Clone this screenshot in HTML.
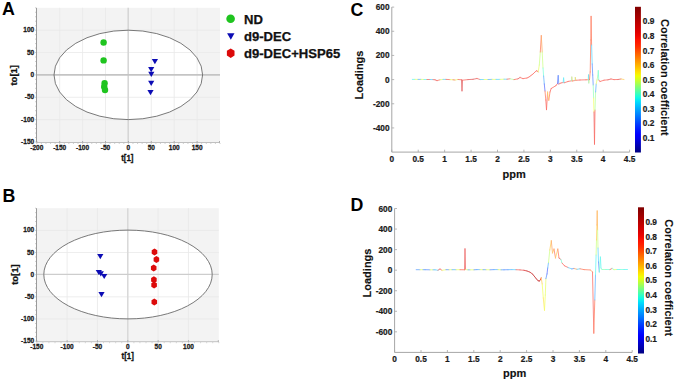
<!DOCTYPE html>
<html><head><meta charset="utf-8"><style>
html,body{margin:0;padding:0;background:#fff;}
svg{display:block;}
</style></head><body>
<svg width="675" height="383" viewBox="0 0 675 383">
<rect width="675" height="383" fill="#fff"/>
<rect x="36.8" y="7.8" width="183.2" height="134.2" fill="#f3f3f3"/>
<ellipse cx="128.3" cy="74.9" rx="74.3" ry="44.7" fill="#ffffff"/>
<line x1="59.70" y1="7.8" x2="59.70" y2="142.0" stroke="#e8e8e8" stroke-width="0.8"/>
<line x1="82.60" y1="7.8" x2="82.60" y2="142.0" stroke="#e8e8e8" stroke-width="0.8"/>
<line x1="105.50" y1="7.8" x2="105.50" y2="142.0" stroke="#e8e8e8" stroke-width="0.8"/>
<line x1="151.30" y1="7.8" x2="151.30" y2="142.0" stroke="#e8e8e8" stroke-width="0.8"/>
<line x1="174.20" y1="7.8" x2="174.20" y2="142.0" stroke="#e8e8e8" stroke-width="0.8"/>
<line x1="197.10" y1="7.8" x2="197.10" y2="142.0" stroke="#e8e8e8" stroke-width="0.8"/>
<line x1="36.8" y1="30.17" x2="220.0" y2="30.17" stroke="#e8e8e8" stroke-width="0.8"/>
<line x1="36.8" y1="52.53" x2="220.0" y2="52.53" stroke="#e8e8e8" stroke-width="0.8"/>
<line x1="36.8" y1="97.27" x2="220.0" y2="97.27" stroke="#e8e8e8" stroke-width="0.8"/>
<line x1="36.8" y1="119.63" x2="220.0" y2="119.63" stroke="#e8e8e8" stroke-width="0.8"/>
<line x1="128.2" y1="7.8" x2="128.2" y2="142.0" stroke="#d4d4d4" stroke-width="1.5"/>
<line x1="36.8" y1="74.95" x2="220.0" y2="74.95" stroke="#c4c4c4" stroke-width="1.7"/>
<ellipse cx="128.3" cy="74.9" rx="74.3" ry="44.7" fill="none" stroke="#6a6a6a" stroke-width="0.9"/>
<line x1="36.5" y1="7.8" x2="36.5" y2="142.5" stroke="#9a9a9a" stroke-width="1"/>
<line x1="36.5" y1="142.5" x2="220.0" y2="142.5" stroke="#c0c0c0" stroke-width="1"/>
<line x1="36.80" y1="142.5" x2="36.80" y2="141.0" stroke="#9a9a9a" stroke-width="0.8"/>
<line x1="59.70" y1="142.5" x2="59.70" y2="141.0" stroke="#9a9a9a" stroke-width="0.8"/>
<line x1="82.60" y1="142.5" x2="82.60" y2="141.0" stroke="#9a9a9a" stroke-width="0.8"/>
<line x1="105.50" y1="142.5" x2="105.50" y2="141.0" stroke="#9a9a9a" stroke-width="0.8"/>
<line x1="128.40" y1="142.5" x2="128.40" y2="141.0" stroke="#9a9a9a" stroke-width="0.8"/>
<line x1="151.30" y1="142.5" x2="151.30" y2="141.0" stroke="#9a9a9a" stroke-width="0.8"/>
<line x1="174.20" y1="142.5" x2="174.20" y2="141.0" stroke="#9a9a9a" stroke-width="0.8"/>
<line x1="197.10" y1="142.5" x2="197.10" y2="141.0" stroke="#9a9a9a" stroke-width="0.8"/>
<line x1="219.5" y1="142.5" x2="219.5" y2="141.0" stroke="#9a9a9a" stroke-width="0.8"/>
<line x1="36.80" y1="143.0" x2="36.80" y2="144.0" stroke="#c4c4c4" stroke-width="0.8"/>
<line x1="41.38" y1="143.0" x2="41.38" y2="144.0" stroke="#c4c4c4" stroke-width="0.8"/>
<line x1="45.96" y1="143.0" x2="45.96" y2="144.0" stroke="#c4c4c4" stroke-width="0.8"/>
<line x1="50.54" y1="143.0" x2="50.54" y2="144.0" stroke="#c4c4c4" stroke-width="0.8"/>
<line x1="55.12" y1="143.0" x2="55.12" y2="144.0" stroke="#c4c4c4" stroke-width="0.8"/>
<line x1="59.70" y1="143.0" x2="59.70" y2="144.0" stroke="#c4c4c4" stroke-width="0.8"/>
<line x1="64.28" y1="143.0" x2="64.28" y2="144.0" stroke="#c4c4c4" stroke-width="0.8"/>
<line x1="68.86" y1="143.0" x2="68.86" y2="144.0" stroke="#c4c4c4" stroke-width="0.8"/>
<line x1="73.44" y1="143.0" x2="73.44" y2="144.0" stroke="#c4c4c4" stroke-width="0.8"/>
<line x1="78.02" y1="143.0" x2="78.02" y2="144.0" stroke="#c4c4c4" stroke-width="0.8"/>
<line x1="82.60" y1="143.0" x2="82.60" y2="144.0" stroke="#c4c4c4" stroke-width="0.8"/>
<line x1="87.18" y1="143.0" x2="87.18" y2="144.0" stroke="#c4c4c4" stroke-width="0.8"/>
<line x1="91.76" y1="143.0" x2="91.76" y2="144.0" stroke="#c4c4c4" stroke-width="0.8"/>
<line x1="96.34" y1="143.0" x2="96.34" y2="144.0" stroke="#c4c4c4" stroke-width="0.8"/>
<line x1="100.92" y1="143.0" x2="100.92" y2="144.0" stroke="#c4c4c4" stroke-width="0.8"/>
<line x1="105.50" y1="143.0" x2="105.50" y2="144.0" stroke="#c4c4c4" stroke-width="0.8"/>
<line x1="110.08" y1="143.0" x2="110.08" y2="144.0" stroke="#c4c4c4" stroke-width="0.8"/>
<line x1="114.66" y1="143.0" x2="114.66" y2="144.0" stroke="#c4c4c4" stroke-width="0.8"/>
<line x1="119.24" y1="143.0" x2="119.24" y2="144.0" stroke="#c4c4c4" stroke-width="0.8"/>
<line x1="123.82" y1="143.0" x2="123.82" y2="144.0" stroke="#c4c4c4" stroke-width="0.8"/>
<line x1="128.40" y1="143.0" x2="128.40" y2="144.0" stroke="#c4c4c4" stroke-width="0.8"/>
<line x1="132.98" y1="143.0" x2="132.98" y2="144.0" stroke="#c4c4c4" stroke-width="0.8"/>
<line x1="137.56" y1="143.0" x2="137.56" y2="144.0" stroke="#c4c4c4" stroke-width="0.8"/>
<line x1="142.14" y1="143.0" x2="142.14" y2="144.0" stroke="#c4c4c4" stroke-width="0.8"/>
<line x1="146.72" y1="143.0" x2="146.72" y2="144.0" stroke="#c4c4c4" stroke-width="0.8"/>
<line x1="151.30" y1="143.0" x2="151.30" y2="144.0" stroke="#c4c4c4" stroke-width="0.8"/>
<line x1="155.88" y1="143.0" x2="155.88" y2="144.0" stroke="#c4c4c4" stroke-width="0.8"/>
<line x1="160.46" y1="143.0" x2="160.46" y2="144.0" stroke="#c4c4c4" stroke-width="0.8"/>
<line x1="165.04" y1="143.0" x2="165.04" y2="144.0" stroke="#c4c4c4" stroke-width="0.8"/>
<line x1="169.62" y1="143.0" x2="169.62" y2="144.0" stroke="#c4c4c4" stroke-width="0.8"/>
<line x1="174.20" y1="143.0" x2="174.20" y2="144.0" stroke="#c4c4c4" stroke-width="0.8"/>
<line x1="178.78" y1="143.0" x2="178.78" y2="144.0" stroke="#c4c4c4" stroke-width="0.8"/>
<line x1="183.36" y1="143.0" x2="183.36" y2="144.0" stroke="#c4c4c4" stroke-width="0.8"/>
<line x1="187.94" y1="143.0" x2="187.94" y2="144.0" stroke="#c4c4c4" stroke-width="0.8"/>
<line x1="192.52" y1="143.0" x2="192.52" y2="144.0" stroke="#c4c4c4" stroke-width="0.8"/>
<line x1="197.10" y1="143.0" x2="197.10" y2="144.0" stroke="#c4c4c4" stroke-width="0.8"/>
<line x1="201.68" y1="143.0" x2="201.68" y2="144.0" stroke="#c4c4c4" stroke-width="0.8"/>
<line x1="206.26" y1="143.0" x2="206.26" y2="144.0" stroke="#c4c4c4" stroke-width="0.8"/>
<line x1="210.84" y1="143.0" x2="210.84" y2="144.0" stroke="#c4c4c4" stroke-width="0.8"/>
<line x1="215.42" y1="143.0" x2="215.42" y2="144.0" stroke="#c4c4c4" stroke-width="0.8"/>
<line x1="220.00" y1="143.0" x2="220.00" y2="144.0" stroke="#c4c4c4" stroke-width="0.8"/>
<line x1="35" y1="142.00" x2="36" y2="142.00" stroke="#c4c4c4" stroke-width="0.8"/>
<line x1="35" y1="137.53" x2="36" y2="137.53" stroke="#c4c4c4" stroke-width="0.8"/>
<line x1="35" y1="133.05" x2="36" y2="133.05" stroke="#c4c4c4" stroke-width="0.8"/>
<line x1="35" y1="128.58" x2="36" y2="128.58" stroke="#c4c4c4" stroke-width="0.8"/>
<line x1="35" y1="124.11" x2="36" y2="124.11" stroke="#c4c4c4" stroke-width="0.8"/>
<line x1="35" y1="119.63" x2="36" y2="119.63" stroke="#c4c4c4" stroke-width="0.8"/>
<line x1="35" y1="115.16" x2="36" y2="115.16" stroke="#c4c4c4" stroke-width="0.8"/>
<line x1="35" y1="110.69" x2="36" y2="110.69" stroke="#c4c4c4" stroke-width="0.8"/>
<line x1="35" y1="106.21" x2="36" y2="106.21" stroke="#c4c4c4" stroke-width="0.8"/>
<line x1="35" y1="101.74" x2="36" y2="101.74" stroke="#c4c4c4" stroke-width="0.8"/>
<line x1="35" y1="97.27" x2="36" y2="97.27" stroke="#c4c4c4" stroke-width="0.8"/>
<line x1="35" y1="92.79" x2="36" y2="92.79" stroke="#c4c4c4" stroke-width="0.8"/>
<line x1="35" y1="88.32" x2="36" y2="88.32" stroke="#c4c4c4" stroke-width="0.8"/>
<line x1="35" y1="83.85" x2="36" y2="83.85" stroke="#c4c4c4" stroke-width="0.8"/>
<line x1="35" y1="79.37" x2="36" y2="79.37" stroke="#c4c4c4" stroke-width="0.8"/>
<line x1="35" y1="74.90" x2="36" y2="74.90" stroke="#c4c4c4" stroke-width="0.8"/>
<line x1="35" y1="70.43" x2="36" y2="70.43" stroke="#c4c4c4" stroke-width="0.8"/>
<line x1="35" y1="65.95" x2="36" y2="65.95" stroke="#c4c4c4" stroke-width="0.8"/>
<line x1="35" y1="61.48" x2="36" y2="61.48" stroke="#c4c4c4" stroke-width="0.8"/>
<line x1="35" y1="57.01" x2="36" y2="57.01" stroke="#c4c4c4" stroke-width="0.8"/>
<line x1="35" y1="52.53" x2="36" y2="52.53" stroke="#c4c4c4" stroke-width="0.8"/>
<line x1="35" y1="48.06" x2="36" y2="48.06" stroke="#c4c4c4" stroke-width="0.8"/>
<line x1="35" y1="43.59" x2="36" y2="43.59" stroke="#c4c4c4" stroke-width="0.8"/>
<line x1="35" y1="39.11" x2="36" y2="39.11" stroke="#c4c4c4" stroke-width="0.8"/>
<line x1="35" y1="34.64" x2="36" y2="34.64" stroke="#c4c4c4" stroke-width="0.8"/>
<line x1="35" y1="30.17" x2="36" y2="30.17" stroke="#c4c4c4" stroke-width="0.8"/>
<line x1="35" y1="25.69" x2="36" y2="25.69" stroke="#c4c4c4" stroke-width="0.8"/>
<line x1="35" y1="21.22" x2="36" y2="21.22" stroke="#c4c4c4" stroke-width="0.8"/>
<line x1="35" y1="16.75" x2="36" y2="16.75" stroke="#c4c4c4" stroke-width="0.8"/>
<line x1="35" y1="12.27" x2="36" y2="12.27" stroke="#c4c4c4" stroke-width="0.8"/>
<line x1="35" y1="7.80" x2="36" y2="7.80" stroke="#c4c4c4" stroke-width="0.8"/>
<text x="39.77" y="32.27" transform="scale(0.86,1)" text-anchor="end" font-size="7.6" font-family="Liberation Sans, sans-serif" font-weight="bold" fill="#1a1a1a" stroke="#1a1a1a" stroke-width="0.3">100</text>
<text x="39.77" y="54.63" transform="scale(0.86,1)" text-anchor="end" font-size="7.6" font-family="Liberation Sans, sans-serif" font-weight="bold" fill="#1a1a1a" stroke="#1a1a1a" stroke-width="0.3">50</text>
<text x="39.77" y="77.00" transform="scale(0.86,1)" text-anchor="end" font-size="7.6" font-family="Liberation Sans, sans-serif" font-weight="bold" fill="#1a1a1a" stroke="#1a1a1a" stroke-width="0.3">0</text>
<text x="39.77" y="99.37" transform="scale(0.86,1)" text-anchor="end" font-size="7.6" font-family="Liberation Sans, sans-serif" font-weight="bold" fill="#1a1a1a" stroke="#1a1a1a" stroke-width="0.3">-50</text>
<text x="39.77" y="121.73" transform="scale(0.86,1)" text-anchor="end" font-size="7.6" font-family="Liberation Sans, sans-serif" font-weight="bold" fill="#1a1a1a" stroke="#1a1a1a" stroke-width="0.3">-100</text>
<text x="39.77" y="144.10" transform="scale(0.86,1)" text-anchor="end" font-size="7.6" font-family="Liberation Sans, sans-serif" font-weight="bold" fill="#1a1a1a" stroke="#1a1a1a" stroke-width="0.3">-150</text>
<text x="42.79" y="150.40" transform="scale(0.86,1)" text-anchor="middle" font-size="7.6" font-family="Liberation Sans, sans-serif" font-weight="bold" fill="#1a1a1a" stroke="#1a1a1a" stroke-width="0.3">-200</text>
<text x="69.42" y="150.40" transform="scale(0.86,1)" text-anchor="middle" font-size="7.6" font-family="Liberation Sans, sans-serif" font-weight="bold" fill="#1a1a1a" stroke="#1a1a1a" stroke-width="0.3">-150</text>
<text x="96.05" y="150.40" transform="scale(0.86,1)" text-anchor="middle" font-size="7.6" font-family="Liberation Sans, sans-serif" font-weight="bold" fill="#1a1a1a" stroke="#1a1a1a" stroke-width="0.3">-100</text>
<text x="122.67" y="150.40" transform="scale(0.86,1)" text-anchor="middle" font-size="7.6" font-family="Liberation Sans, sans-serif" font-weight="bold" fill="#1a1a1a" stroke="#1a1a1a" stroke-width="0.3">-50</text>
<text x="149.30" y="150.40" transform="scale(0.86,1)" text-anchor="middle" font-size="7.6" font-family="Liberation Sans, sans-serif" font-weight="bold" fill="#1a1a1a" stroke="#1a1a1a" stroke-width="0.3">0</text>
<text x="175.93" y="150.40" transform="scale(0.86,1)" text-anchor="middle" font-size="7.6" font-family="Liberation Sans, sans-serif" font-weight="bold" fill="#1a1a1a" stroke="#1a1a1a" stroke-width="0.3">50</text>
<text x="202.56" y="150.40" transform="scale(0.86,1)" text-anchor="middle" font-size="7.6" font-family="Liberation Sans, sans-serif" font-weight="bold" fill="#1a1a1a" stroke="#1a1a1a" stroke-width="0.3">100</text>
<text x="229.19" y="150.40" transform="scale(0.86,1)" text-anchor="middle" font-size="7.6" font-family="Liberation Sans, sans-serif" font-weight="bold" fill="#1a1a1a" stroke="#1a1a1a" stroke-width="0.3">150</text>
<text x="1.9" y="14.7" font-size="17.8" font-family="Liberation Sans, sans-serif" font-weight="bold" fill="#000">A</text>
<text x="0" y="0" transform="translate(17.1,75.3) scale(0.87,1) rotate(-90)" text-anchor="middle" font-size="9.5" font-family="Liberation Sans, sans-serif" font-weight="bold" fill="#111" stroke="#111" stroke-width="0.3">to[1]</text>
<text x="0" y="0" transform="translate(127.3,160.6) scale(0.9,1)" text-anchor="middle" font-size="8.8" font-family="Liberation Sans, sans-serif" font-weight="bold" fill="#111" stroke="#111" stroke-width="0.3">t[1]</text>
<circle cx="103.6" cy="42.5" r="3.2" fill="#1fc41f"/>
<circle cx="103.6" cy="60.4" r="3.2" fill="#1fc41f"/>
<circle cx="104.6" cy="83.2" r="3.2" fill="#1fc41f"/>
<circle cx="104.2" cy="86.8" r="3.2" fill="#1fc41f"/>
<circle cx="105.0" cy="90.0" r="3.2" fill="#1fc41f"/>
<polygon points="151.80,59.10 158.00,59.10 154.90,64.30" fill="#0c0cb4"/>
<polygon points="148.10,67.00 154.30,67.00 151.20,72.20" fill="#0c0cb4"/>
<polygon points="148.20,71.70 154.40,71.70 151.30,76.90" fill="#0c0cb4"/>
<polygon points="148.10,80.80 154.30,80.80 151.20,86.00" fill="#0c0cb4"/>
<polygon points="147.40,90.00 153.60,90.00 150.50,95.20" fill="#0c0cb4"/>
<rect x="36.8" y="208.2" width="182.0" height="133.0" fill="#f3f3f3"/>
<ellipse cx="128.0" cy="274.5" rx="84.2" ry="44.4" fill="#ffffff"/>
<line x1="67.13" y1="208.2" x2="67.13" y2="341.2" stroke="#e8e8e8" stroke-width="0.8"/>
<line x1="97.47" y1="208.2" x2="97.47" y2="341.2" stroke="#e8e8e8" stroke-width="0.8"/>
<line x1="158.13" y1="208.2" x2="158.13" y2="341.2" stroke="#e8e8e8" stroke-width="0.8"/>
<line x1="188.47" y1="208.2" x2="188.47" y2="341.2" stroke="#e8e8e8" stroke-width="0.8"/>
<line x1="36.8" y1="230.37" x2="218.8" y2="230.37" stroke="#e8e8e8" stroke-width="0.8"/>
<line x1="36.8" y1="252.53" x2="218.8" y2="252.53" stroke="#e8e8e8" stroke-width="0.8"/>
<line x1="36.8" y1="296.87" x2="218.8" y2="296.87" stroke="#e8e8e8" stroke-width="0.8"/>
<line x1="36.8" y1="319.03" x2="218.8" y2="319.03" stroke="#e8e8e8" stroke-width="0.8"/>
<line x1="127.8" y1="208.2" x2="127.8" y2="341.2" stroke="#d8d8d8" stroke-width="1.5"/>
<line x1="36.8" y1="274.4" x2="218.8" y2="274.4" stroke="#cdcdcd" stroke-width="1.3"/>
<ellipse cx="128.0" cy="274.5" rx="84.2" ry="44.4" fill="none" stroke="#6a6a6a" stroke-width="0.9"/>
<line x1="36.5" y1="208.2" x2="36.5" y2="341.7" stroke="#9a9a9a" stroke-width="1"/>
<line x1="36.5" y1="341.7" x2="218.8" y2="341.7" stroke="#c0c0c0" stroke-width="1"/>
<line x1="36.80" y1="341.7" x2="36.80" y2="340.2" stroke="#9a9a9a" stroke-width="0.8"/>
<line x1="67.13" y1="341.7" x2="67.13" y2="340.2" stroke="#9a9a9a" stroke-width="0.8"/>
<line x1="97.47" y1="341.7" x2="97.47" y2="340.2" stroke="#9a9a9a" stroke-width="0.8"/>
<line x1="127.80" y1="341.7" x2="127.80" y2="340.2" stroke="#9a9a9a" stroke-width="0.8"/>
<line x1="158.13" y1="341.7" x2="158.13" y2="340.2" stroke="#9a9a9a" stroke-width="0.8"/>
<line x1="188.47" y1="341.7" x2="188.47" y2="340.2" stroke="#9a9a9a" stroke-width="0.8"/>
<line x1="218.3" y1="341.7" x2="218.3" y2="340.2" stroke="#9a9a9a" stroke-width="0.8"/>
<line x1="36.80" y1="342.2" x2="36.80" y2="343.2" stroke="#c4c4c4" stroke-width="0.8"/>
<line x1="42.87" y1="342.2" x2="42.87" y2="343.2" stroke="#c4c4c4" stroke-width="0.8"/>
<line x1="48.93" y1="342.2" x2="48.93" y2="343.2" stroke="#c4c4c4" stroke-width="0.8"/>
<line x1="55.00" y1="342.2" x2="55.00" y2="343.2" stroke="#c4c4c4" stroke-width="0.8"/>
<line x1="61.07" y1="342.2" x2="61.07" y2="343.2" stroke="#c4c4c4" stroke-width="0.8"/>
<line x1="67.13" y1="342.2" x2="67.13" y2="343.2" stroke="#c4c4c4" stroke-width="0.8"/>
<line x1="73.20" y1="342.2" x2="73.20" y2="343.2" stroke="#c4c4c4" stroke-width="0.8"/>
<line x1="79.27" y1="342.2" x2="79.27" y2="343.2" stroke="#c4c4c4" stroke-width="0.8"/>
<line x1="85.33" y1="342.2" x2="85.33" y2="343.2" stroke="#c4c4c4" stroke-width="0.8"/>
<line x1="91.40" y1="342.2" x2="91.40" y2="343.2" stroke="#c4c4c4" stroke-width="0.8"/>
<line x1="97.47" y1="342.2" x2="97.47" y2="343.2" stroke="#c4c4c4" stroke-width="0.8"/>
<line x1="103.53" y1="342.2" x2="103.53" y2="343.2" stroke="#c4c4c4" stroke-width="0.8"/>
<line x1="109.60" y1="342.2" x2="109.60" y2="343.2" stroke="#c4c4c4" stroke-width="0.8"/>
<line x1="115.67" y1="342.2" x2="115.67" y2="343.2" stroke="#c4c4c4" stroke-width="0.8"/>
<line x1="121.73" y1="342.2" x2="121.73" y2="343.2" stroke="#c4c4c4" stroke-width="0.8"/>
<line x1="127.80" y1="342.2" x2="127.80" y2="343.2" stroke="#c4c4c4" stroke-width="0.8"/>
<line x1="133.87" y1="342.2" x2="133.87" y2="343.2" stroke="#c4c4c4" stroke-width="0.8"/>
<line x1="139.93" y1="342.2" x2="139.93" y2="343.2" stroke="#c4c4c4" stroke-width="0.8"/>
<line x1="146.00" y1="342.2" x2="146.00" y2="343.2" stroke="#c4c4c4" stroke-width="0.8"/>
<line x1="152.07" y1="342.2" x2="152.07" y2="343.2" stroke="#c4c4c4" stroke-width="0.8"/>
<line x1="158.13" y1="342.2" x2="158.13" y2="343.2" stroke="#c4c4c4" stroke-width="0.8"/>
<line x1="164.20" y1="342.2" x2="164.20" y2="343.2" stroke="#c4c4c4" stroke-width="0.8"/>
<line x1="170.27" y1="342.2" x2="170.27" y2="343.2" stroke="#c4c4c4" stroke-width="0.8"/>
<line x1="176.33" y1="342.2" x2="176.33" y2="343.2" stroke="#c4c4c4" stroke-width="0.8"/>
<line x1="182.40" y1="342.2" x2="182.40" y2="343.2" stroke="#c4c4c4" stroke-width="0.8"/>
<line x1="188.47" y1="342.2" x2="188.47" y2="343.2" stroke="#c4c4c4" stroke-width="0.8"/>
<line x1="194.53" y1="342.2" x2="194.53" y2="343.2" stroke="#c4c4c4" stroke-width="0.8"/>
<line x1="200.60" y1="342.2" x2="200.60" y2="343.2" stroke="#c4c4c4" stroke-width="0.8"/>
<line x1="206.67" y1="342.2" x2="206.67" y2="343.2" stroke="#c4c4c4" stroke-width="0.8"/>
<line x1="212.73" y1="342.2" x2="212.73" y2="343.2" stroke="#c4c4c4" stroke-width="0.8"/>
<line x1="218.80" y1="342.2" x2="218.80" y2="343.2" stroke="#c4c4c4" stroke-width="0.8"/>
<line x1="35" y1="341.20" x2="36" y2="341.20" stroke="#c4c4c4" stroke-width="0.8"/>
<line x1="35" y1="336.77" x2="36" y2="336.77" stroke="#c4c4c4" stroke-width="0.8"/>
<line x1="35" y1="332.33" x2="36" y2="332.33" stroke="#c4c4c4" stroke-width="0.8"/>
<line x1="35" y1="327.90" x2="36" y2="327.90" stroke="#c4c4c4" stroke-width="0.8"/>
<line x1="35" y1="323.47" x2="36" y2="323.47" stroke="#c4c4c4" stroke-width="0.8"/>
<line x1="35" y1="319.03" x2="36" y2="319.03" stroke="#c4c4c4" stroke-width="0.8"/>
<line x1="35" y1="314.60" x2="36" y2="314.60" stroke="#c4c4c4" stroke-width="0.8"/>
<line x1="35" y1="310.17" x2="36" y2="310.17" stroke="#c4c4c4" stroke-width="0.8"/>
<line x1="35" y1="305.73" x2="36" y2="305.73" stroke="#c4c4c4" stroke-width="0.8"/>
<line x1="35" y1="301.30" x2="36" y2="301.30" stroke="#c4c4c4" stroke-width="0.8"/>
<line x1="35" y1="296.87" x2="36" y2="296.87" stroke="#c4c4c4" stroke-width="0.8"/>
<line x1="35" y1="292.43" x2="36" y2="292.43" stroke="#c4c4c4" stroke-width="0.8"/>
<line x1="35" y1="288.00" x2="36" y2="288.00" stroke="#c4c4c4" stroke-width="0.8"/>
<line x1="35" y1="283.57" x2="36" y2="283.57" stroke="#c4c4c4" stroke-width="0.8"/>
<line x1="35" y1="279.13" x2="36" y2="279.13" stroke="#c4c4c4" stroke-width="0.8"/>
<line x1="35" y1="274.70" x2="36" y2="274.70" stroke="#c4c4c4" stroke-width="0.8"/>
<line x1="35" y1="270.27" x2="36" y2="270.27" stroke="#c4c4c4" stroke-width="0.8"/>
<line x1="35" y1="265.83" x2="36" y2="265.83" stroke="#c4c4c4" stroke-width="0.8"/>
<line x1="35" y1="261.40" x2="36" y2="261.40" stroke="#c4c4c4" stroke-width="0.8"/>
<line x1="35" y1="256.97" x2="36" y2="256.97" stroke="#c4c4c4" stroke-width="0.8"/>
<line x1="35" y1="252.53" x2="36" y2="252.53" stroke="#c4c4c4" stroke-width="0.8"/>
<line x1="35" y1="248.10" x2="36" y2="248.10" stroke="#c4c4c4" stroke-width="0.8"/>
<line x1="35" y1="243.67" x2="36" y2="243.67" stroke="#c4c4c4" stroke-width="0.8"/>
<line x1="35" y1="239.23" x2="36" y2="239.23" stroke="#c4c4c4" stroke-width="0.8"/>
<line x1="35" y1="234.80" x2="36" y2="234.80" stroke="#c4c4c4" stroke-width="0.8"/>
<line x1="35" y1="230.37" x2="36" y2="230.37" stroke="#c4c4c4" stroke-width="0.8"/>
<line x1="35" y1="225.93" x2="36" y2="225.93" stroke="#c4c4c4" stroke-width="0.8"/>
<line x1="35" y1="221.50" x2="36" y2="221.50" stroke="#c4c4c4" stroke-width="0.8"/>
<line x1="35" y1="217.07" x2="36" y2="217.07" stroke="#c4c4c4" stroke-width="0.8"/>
<line x1="35" y1="212.63" x2="36" y2="212.63" stroke="#c4c4c4" stroke-width="0.8"/>
<line x1="35" y1="208.20" x2="36" y2="208.20" stroke="#c4c4c4" stroke-width="0.8"/>
<text x="39.77" y="232.47" transform="scale(0.86,1)" text-anchor="end" font-size="7.6" font-family="Liberation Sans, sans-serif" font-weight="bold" fill="#1a1a1a" stroke="#1a1a1a" stroke-width="0.3">100</text>
<text x="39.77" y="254.63" transform="scale(0.86,1)" text-anchor="end" font-size="7.6" font-family="Liberation Sans, sans-serif" font-weight="bold" fill="#1a1a1a" stroke="#1a1a1a" stroke-width="0.3">50</text>
<text x="39.77" y="276.80" transform="scale(0.86,1)" text-anchor="end" font-size="7.6" font-family="Liberation Sans, sans-serif" font-weight="bold" fill="#1a1a1a" stroke="#1a1a1a" stroke-width="0.3">0</text>
<text x="39.77" y="298.97" transform="scale(0.86,1)" text-anchor="end" font-size="7.6" font-family="Liberation Sans, sans-serif" font-weight="bold" fill="#1a1a1a" stroke="#1a1a1a" stroke-width="0.3">-50</text>
<text x="39.77" y="321.13" transform="scale(0.86,1)" text-anchor="end" font-size="7.6" font-family="Liberation Sans, sans-serif" font-weight="bold" fill="#1a1a1a" stroke="#1a1a1a" stroke-width="0.3">-100</text>
<text x="39.77" y="343.30" transform="scale(0.86,1)" text-anchor="end" font-size="7.6" font-family="Liberation Sans, sans-serif" font-weight="bold" fill="#1a1a1a" stroke="#1a1a1a" stroke-width="0.3">-150</text>
<text x="42.79" y="349.30" transform="scale(0.86,1)" text-anchor="middle" font-size="7.6" font-family="Liberation Sans, sans-serif" font-weight="bold" fill="#1a1a1a" stroke="#1a1a1a" stroke-width="0.3">-150</text>
<text x="78.06" y="349.30" transform="scale(0.86,1)" text-anchor="middle" font-size="7.6" font-family="Liberation Sans, sans-serif" font-weight="bold" fill="#1a1a1a" stroke="#1a1a1a" stroke-width="0.3">-100</text>
<text x="113.33" y="349.30" transform="scale(0.86,1)" text-anchor="middle" font-size="7.6" font-family="Liberation Sans, sans-serif" font-weight="bold" fill="#1a1a1a" stroke="#1a1a1a" stroke-width="0.3">-50</text>
<text x="148.60" y="349.30" transform="scale(0.86,1)" text-anchor="middle" font-size="7.6" font-family="Liberation Sans, sans-serif" font-weight="bold" fill="#1a1a1a" stroke="#1a1a1a" stroke-width="0.3">0</text>
<text x="183.88" y="349.30" transform="scale(0.86,1)" text-anchor="middle" font-size="7.6" font-family="Liberation Sans, sans-serif" font-weight="bold" fill="#1a1a1a" stroke="#1a1a1a" stroke-width="0.3">50</text>
<text x="219.15" y="349.30" transform="scale(0.86,1)" text-anchor="middle" font-size="7.6" font-family="Liberation Sans, sans-serif" font-weight="bold" fill="#1a1a1a" stroke="#1a1a1a" stroke-width="0.3">100</text>
<text x="2.6" y="201.6" font-size="17.8" font-family="Liberation Sans, sans-serif" font-weight="bold" fill="#000">B</text>
<text x="0" y="0" transform="translate(17.8,274.6) scale(0.87,1) rotate(-90)" text-anchor="middle" font-size="9.5" font-family="Liberation Sans, sans-serif" font-weight="bold" fill="#111" stroke="#111" stroke-width="0.3">to[1]</text>
<text x="0" y="0" transform="translate(127.7,359.1) scale(0.9,1)" text-anchor="middle" font-size="8.8" font-family="Liberation Sans, sans-serif" font-weight="bold" fill="#111" stroke="#111" stroke-width="0.3">t[1]</text>
<polygon points="97.20,254.10 103.40,254.10 100.30,259.30" fill="#0c0cb4"/>
<polygon points="95.70,269.90 101.90,269.90 98.80,275.10" fill="#0c0cb4"/>
<polygon points="97.70,271.20 103.90,271.20 100.80,276.40" fill="#0c0cb4"/>
<polygon points="101.10,273.90 107.30,273.90 104.20,279.10" fill="#0c0cb4"/>
<polygon points="98.40,292.10 104.60,292.10 101.50,297.30" fill="#0c0cb4"/>
<polygon points="154.50,255.40 151.71,253.65 151.71,250.15 154.50,248.40 157.29,250.15 157.29,253.65" fill="#dc0a0a"/>
<polygon points="156.40,263.10 153.61,261.35 153.61,257.85 156.40,256.10 159.19,257.85 159.19,261.35" fill="#dc0a0a"/>
<polygon points="153.70,271.50 150.91,269.75 150.91,266.25 153.70,264.50 156.49,266.25 156.49,269.75" fill="#dc0a0a"/>
<polygon points="153.90,283.20 151.11,281.45 151.11,277.95 153.90,276.20 156.69,277.95 156.69,281.45" fill="#dc0a0a"/>
<polygon points="154.10,288.60 151.31,286.85 151.31,283.35 154.10,281.60 156.89,283.35 156.89,286.85" fill="#dc0a0a"/>
<polygon points="154.30,305.50 151.51,303.75 151.51,300.25 154.30,298.50 157.09,300.25 157.09,303.75" fill="#dc0a0a"/>
<circle cx="230.6" cy="18.8" r="4.3" fill="#1fc41f"/>
<polygon points="227.10,33.35 234.50,33.35 230.80,39.85" fill="#0c0cb4"/>
<polygon points="230.70,58.00 226.88,55.60 226.88,50.80 230.70,48.40 234.52,50.80 234.52,55.60" fill="#dc0a0a"/>
<text x="0" y="0" transform="translate(244,23.7) scale(1.09,1)" font-size="12" font-family="Liberation Sans, sans-serif" font-weight="bold" fill="#111" stroke="#111" stroke-width="0.25">ND</text>
<text x="0" y="0" transform="translate(244,41.0) scale(1.09,1)" font-size="12" font-family="Liberation Sans, sans-serif" font-weight="bold" fill="#111" stroke="#111" stroke-width="0.25">d9-DEC</text>
<text x="0" y="0" transform="translate(244,58.4) scale(1.09,1)" font-size="12" font-family="Liberation Sans, sans-serif" font-weight="bold" fill="#111" stroke="#111" stroke-width="0.25">d9-DEC+HSP65</text>
<line x1="391.8" y1="7.1" x2="391.8" y2="152.1" stroke="#a6a6a6" stroke-width="1"/>
<line x1="391.8" y1="152.1" x2="629.6" y2="152.1" stroke="#a6a6a6" stroke-width="1"/>
<line x1="391.8" y1="7.10" x2="394.2" y2="7.10" stroke="#a6a6a6" stroke-width="0.8"/>
<text x="389.5" y="10.10" text-anchor="end" font-size="8.3" font-family="Liberation Sans, sans-serif" font-weight="bold" fill="#1a1a1a" stroke="#1a1a1a" stroke-width="0.2">600</text>
<line x1="391.8" y1="31.27" x2="394.2" y2="31.27" stroke="#a6a6a6" stroke-width="0.8"/>
<text x="389.5" y="34.27" text-anchor="end" font-size="8.3" font-family="Liberation Sans, sans-serif" font-weight="bold" fill="#1a1a1a" stroke="#1a1a1a" stroke-width="0.2">400</text>
<line x1="391.8" y1="55.43" x2="394.2" y2="55.43" stroke="#a6a6a6" stroke-width="0.8"/>
<text x="389.5" y="58.43" text-anchor="end" font-size="8.3" font-family="Liberation Sans, sans-serif" font-weight="bold" fill="#1a1a1a" stroke="#1a1a1a" stroke-width="0.2">200</text>
<line x1="391.8" y1="79.60" x2="394.2" y2="79.60" stroke="#a6a6a6" stroke-width="0.8"/>
<text x="389.5" y="82.60" text-anchor="end" font-size="8.3" font-family="Liberation Sans, sans-serif" font-weight="bold" fill="#1a1a1a" stroke="#1a1a1a" stroke-width="0.2">0</text>
<line x1="391.8" y1="103.77" x2="394.2" y2="103.77" stroke="#a6a6a6" stroke-width="0.8"/>
<text x="389.5" y="106.77" text-anchor="end" font-size="8.3" font-family="Liberation Sans, sans-serif" font-weight="bold" fill="#1a1a1a" stroke="#1a1a1a" stroke-width="0.2">-200</text>
<line x1="391.8" y1="127.93" x2="394.2" y2="127.93" stroke="#a6a6a6" stroke-width="0.8"/>
<text x="389.5" y="130.93" text-anchor="end" font-size="8.3" font-family="Liberation Sans, sans-serif" font-weight="bold" fill="#1a1a1a" stroke="#1a1a1a" stroke-width="0.2">-400</text>
<line x1="391.80" y1="152.1" x2="391.80" y2="149.7" stroke="#a6a6a6" stroke-width="0.8"/>
<text x="391.80" y="162.0" text-anchor="middle" font-size="8.3" font-family="Liberation Sans, sans-serif" font-weight="bold" fill="#1a1a1a" stroke="#1a1a1a" stroke-width="0.2">0</text>
<line x1="418.22" y1="152.1" x2="418.22" y2="149.7" stroke="#a6a6a6" stroke-width="0.8"/>
<text x="418.22" y="162.0" text-anchor="middle" font-size="8.3" font-family="Liberation Sans, sans-serif" font-weight="bold" fill="#1a1a1a" stroke="#1a1a1a" stroke-width="0.2">0.5</text>
<line x1="444.64" y1="152.1" x2="444.64" y2="149.7" stroke="#a6a6a6" stroke-width="0.8"/>
<text x="444.64" y="162.0" text-anchor="middle" font-size="8.3" font-family="Liberation Sans, sans-serif" font-weight="bold" fill="#1a1a1a" stroke="#1a1a1a" stroke-width="0.2">1</text>
<line x1="471.07" y1="152.1" x2="471.07" y2="149.7" stroke="#a6a6a6" stroke-width="0.8"/>
<text x="471.07" y="162.0" text-anchor="middle" font-size="8.3" font-family="Liberation Sans, sans-serif" font-weight="bold" fill="#1a1a1a" stroke="#1a1a1a" stroke-width="0.2">1.5</text>
<line x1="497.49" y1="152.1" x2="497.49" y2="149.7" stroke="#a6a6a6" stroke-width="0.8"/>
<text x="497.49" y="162.0" text-anchor="middle" font-size="8.3" font-family="Liberation Sans, sans-serif" font-weight="bold" fill="#1a1a1a" stroke="#1a1a1a" stroke-width="0.2">2</text>
<line x1="523.91" y1="152.1" x2="523.91" y2="149.7" stroke="#a6a6a6" stroke-width="0.8"/>
<text x="523.91" y="162.0" text-anchor="middle" font-size="8.3" font-family="Liberation Sans, sans-serif" font-weight="bold" fill="#1a1a1a" stroke="#1a1a1a" stroke-width="0.2">2.5</text>
<line x1="550.33" y1="152.1" x2="550.33" y2="149.7" stroke="#a6a6a6" stroke-width="0.8"/>
<text x="550.33" y="162.0" text-anchor="middle" font-size="8.3" font-family="Liberation Sans, sans-serif" font-weight="bold" fill="#1a1a1a" stroke="#1a1a1a" stroke-width="0.2">3</text>
<line x1="576.76" y1="152.1" x2="576.76" y2="149.7" stroke="#a6a6a6" stroke-width="0.8"/>
<text x="576.76" y="162.0" text-anchor="middle" font-size="8.3" font-family="Liberation Sans, sans-serif" font-weight="bold" fill="#1a1a1a" stroke="#1a1a1a" stroke-width="0.2">3.5</text>
<line x1="603.18" y1="152.1" x2="603.18" y2="149.7" stroke="#a6a6a6" stroke-width="0.8"/>
<text x="603.18" y="162.0" text-anchor="middle" font-size="8.3" font-family="Liberation Sans, sans-serif" font-weight="bold" fill="#1a1a1a" stroke="#1a1a1a" stroke-width="0.2">4</text>
<line x1="629.60" y1="152.1" x2="629.60" y2="149.7" stroke="#a6a6a6" stroke-width="0.8"/>
<text x="629.60" y="162.0" text-anchor="middle" font-size="8.3" font-family="Liberation Sans, sans-serif" font-weight="bold" fill="#1a1a1a" stroke="#1a1a1a" stroke-width="0.2">4.5</text>
<text x="350.6" y="16.4" font-size="17.8" font-family="Liberation Sans, sans-serif" font-weight="bold" fill="#000">C</text>
<text x="0" y="0" transform="translate(363.1,75.0) rotate(-90)" text-anchor="middle" font-size="11" font-family="Liberation Sans, sans-serif" font-weight="bold" fill="#111" stroke="#111" stroke-width="0.15">Loadings</text>
<text x="514.2" y="177.5" text-anchor="middle" font-size="11" font-family="Liberation Sans, sans-serif" font-weight="bold" fill="#111" stroke="#111" stroke-width="0.15">ppm</text>
<defs><linearGradient id="gC" x1="0" y1="0" x2="0" y2="1"><stop offset="0.000" stop-color="#800000"/><stop offset="0.025" stop-color="#8d0000"/><stop offset="0.050" stop-color="#9b0000"/><stop offset="0.075" stop-color="#a90000"/><stop offset="0.100" stop-color="#b70000"/><stop offset="0.125" stop-color="#c50000"/><stop offset="0.150" stop-color="#d30000"/><stop offset="0.175" stop-color="#e10000"/><stop offset="0.200" stop-color="#ef0600"/><stop offset="0.225" stop-color="#fd1100"/><stop offset="0.250" stop-color="#ff1d00"/><stop offset="0.275" stop-color="#ff3000"/><stop offset="0.300" stop-color="#ff4a00"/><stop offset="0.325" stop-color="#ff6400"/><stop offset="0.350" stop-color="#ff7d00"/><stop offset="0.375" stop-color="#ff9700"/><stop offset="0.400" stop-color="#ffb100"/><stop offset="0.425" stop-color="#ffca00"/><stop offset="0.450" stop-color="#ffe400"/><stop offset="0.475" stop-color="#f0fe07"/><stop offset="0.500" stop-color="#d2ff24"/><stop offset="0.525" stop-color="#abff4c"/><stop offset="0.550" stop-color="#83ff73"/><stop offset="0.575" stop-color="#5cff9b"/><stop offset="0.600" stop-color="#34ffc3"/><stop offset="0.625" stop-color="#10fae6"/><stop offset="0.650" stop-color="#00e0fc"/><stop offset="0.675" stop-color="#00c5ff"/><stop offset="0.700" stop-color="#00abff"/><stop offset="0.725" stop-color="#0091ff"/><stop offset="0.750" stop-color="#0077ff"/><stop offset="0.775" stop-color="#005dff"/><stop offset="0.800" stop-color="#0042ff"/><stop offset="0.825" stop-color="#002aff"/><stop offset="0.850" stop-color="#0012ff"/><stop offset="0.875" stop-color="#0000ff"/><stop offset="0.900" stop-color="#0000ee"/><stop offset="0.925" stop-color="#0000d2"/><stop offset="0.950" stop-color="#0000b7"/><stop offset="0.975" stop-color="#00009b"/><stop offset="1.000" stop-color="#000080"/></linearGradient></defs>
<rect x="635.0" y="6.8" width="5.899999999999977" height="145.7" fill="url(#gC)"/>
<text x="642.8" y="140.93" font-size="8.3" font-family="Liberation Sans, sans-serif" font-weight="bold" fill="#1a1a1a" stroke="#1a1a1a" stroke-width="0.2">0.1</text>
<text x="642.8" y="126.36" font-size="8.3" font-family="Liberation Sans, sans-serif" font-weight="bold" fill="#1a1a1a" stroke="#1a1a1a" stroke-width="0.2">0.2</text>
<text x="642.8" y="111.79" font-size="8.3" font-family="Liberation Sans, sans-serif" font-weight="bold" fill="#1a1a1a" stroke="#1a1a1a" stroke-width="0.2">0.3</text>
<text x="642.8" y="97.22" font-size="8.3" font-family="Liberation Sans, sans-serif" font-weight="bold" fill="#1a1a1a" stroke="#1a1a1a" stroke-width="0.2">0.4</text>
<text x="642.8" y="82.65" font-size="8.3" font-family="Liberation Sans, sans-serif" font-weight="bold" fill="#1a1a1a" stroke="#1a1a1a" stroke-width="0.2">0.5</text>
<text x="642.8" y="68.08" font-size="8.3" font-family="Liberation Sans, sans-serif" font-weight="bold" fill="#1a1a1a" stroke="#1a1a1a" stroke-width="0.2">0.6</text>
<text x="642.8" y="53.51" font-size="8.3" font-family="Liberation Sans, sans-serif" font-weight="bold" fill="#1a1a1a" stroke="#1a1a1a" stroke-width="0.2">0.7</text>
<text x="642.8" y="38.94" font-size="8.3" font-family="Liberation Sans, sans-serif" font-weight="bold" fill="#1a1a1a" stroke="#1a1a1a" stroke-width="0.2">0.8</text>
<text x="642.8" y="24.37" font-size="8.3" font-family="Liberation Sans, sans-serif" font-weight="bold" fill="#1a1a1a" stroke="#1a1a1a" stroke-width="0.2">0.9</text>
<text x="0" y="0" transform="translate(660.7,77.4) rotate(90)" text-anchor="middle" font-size="11" font-family="Liberation Sans, sans-serif" font-weight="bold" fill="#111" stroke="#111" stroke-width="0.12">Correlation coefficient</text>
<line x1="412.3" y1="79.4" x2="415" y2="79.4" stroke="#6af6f5" stroke-width="0.8" stroke-linecap="round"/>
<line x1="415" y1="79.4" x2="418" y2="79.4" stroke="#eaff76" stroke-width="0.8" stroke-linecap="round"/>
<line x1="418" y1="79.4" x2="421" y2="79.4" stroke="#66b7ff" stroke-width="0.8" stroke-linecap="round"/>
<line x1="421" y1="79.4" x2="424" y2="79.5" stroke="#eaff76" stroke-width="0.8" stroke-linecap="round"/>
<line x1="424" y1="79.5" x2="427" y2="79.5" stroke="#6af6f5" stroke-width="0.8" stroke-linecap="round"/>
<line x1="427" y1="79.5" x2="430" y2="79.5" stroke="#fb6e66" stroke-width="0.8" stroke-linecap="round"/>
<line x1="430" y1="79.5" x2="433" y2="79.6" stroke="#66d6ff" stroke-width="0.8" stroke-linecap="round"/>
<line x1="433" y1="79.6" x2="435" y2="79.8" stroke="#fb6e66" stroke-width="0.8" stroke-linecap="round"/>
<line x1="435" y1="79.8" x2="437" y2="80.6" stroke="#e36666" stroke-width="0.8" stroke-linecap="round"/>
<line x1="437" y1="80.6" x2="440" y2="79.8" stroke="#fb6e66" stroke-width="0.8" stroke-linecap="round"/>
<line x1="440" y1="79.8" x2="443" y2="79.4" stroke="#eaff76" stroke-width="0.8" stroke-linecap="round"/>
<line x1="443" y1="79.4" x2="446" y2="79.4" stroke="#66d6ff" stroke-width="0.8" stroke-linecap="round"/>
<line x1="446" y1="79.4" x2="450" y2="79.6" stroke="#fb6e66" stroke-width="0.8" stroke-linecap="round"/>
<line x1="450" y1="79.6" x2="453" y2="79.8" stroke="#eaff76" stroke-width="0.8" stroke-linecap="round"/>
<line x1="453" y1="79.8" x2="455" y2="80.0" stroke="#fb6e66" stroke-width="0.8" stroke-linecap="round"/>
<line x1="455" y1="80.0" x2="458" y2="79.5" stroke="#eaff76" stroke-width="0.8" stroke-linecap="round"/>
<line x1="458" y1="79.5" x2="461.5" y2="79.8" stroke="#fb6e66" stroke-width="0.8" stroke-linecap="round"/>
<line x1="461.5" y1="79.8" x2="462" y2="90.9" stroke="#e36666" stroke-width="0.8" stroke-linecap="round"/>
<line x1="462" y1="90.9" x2="462.5" y2="80.2" stroke="#e36666" stroke-width="0.8" stroke-linecap="round"/>
<line x1="462.5" y1="80.2" x2="468" y2="79.6" stroke="#fb6e66" stroke-width="0.8" stroke-linecap="round"/>
<line x1="468" y1="79.6" x2="473" y2="79.3" stroke="#e36666" stroke-width="0.8" stroke-linecap="round"/>
<line x1="473" y1="79.3" x2="477" y2="78.5" stroke="#e36666" stroke-width="0.8" stroke-linecap="round"/>
<line x1="477" y1="78.5" x2="480" y2="79.5" stroke="#fb6e66" stroke-width="0.8" stroke-linecap="round"/>
<line x1="480" y1="79.5" x2="484" y2="79.5" stroke="#66d6ff" stroke-width="0.8" stroke-linecap="round"/>
<line x1="484" y1="79.5" x2="488" y2="79.5" stroke="#eaff76" stroke-width="0.8" stroke-linecap="round"/>
<line x1="488" y1="79.5" x2="492" y2="79.4" stroke="#66b7ff" stroke-width="0.8" stroke-linecap="round"/>
<line x1="492" y1="79.4" x2="496" y2="79.4" stroke="#eaff76" stroke-width="0.8" stroke-linecap="round"/>
<line x1="496" y1="79.4" x2="500" y2="79.4" stroke="#66d6ff" stroke-width="0.8" stroke-linecap="round"/>
<line x1="500" y1="79.4" x2="504" y2="79.2" stroke="#eaff76" stroke-width="0.8" stroke-linecap="round"/>
<line x1="504" y1="79.2" x2="507" y2="79.2" stroke="#66d6ff" stroke-width="0.8" stroke-linecap="round"/>
<line x1="507" y1="79.2" x2="510" y2="78.8" stroke="#fb6e66" stroke-width="0.8" stroke-linecap="round"/>
<line x1="510" y1="78.8" x2="514" y2="79.6" stroke="#b7ffa9" stroke-width="0.8" stroke-linecap="round"/>
<line x1="514" y1="79.6" x2="518" y2="78.8" stroke="#fb6e66" stroke-width="0.8" stroke-linecap="round"/>
<line x1="518" y1="78.8" x2="520" y2="77.5" stroke="#e36666" stroke-width="0.8" stroke-linecap="round"/>
<line x1="520" y1="77.5" x2="523" y2="78.6" stroke="#fb6e66" stroke-width="0.8" stroke-linecap="round"/>
<line x1="523" y1="78.6" x2="527" y2="78.0" stroke="#fb6e66" stroke-width="0.8" stroke-linecap="round"/>
<line x1="527" y1="78.0" x2="529" y2="77.0" stroke="#fb6e66" stroke-width="0.8" stroke-linecap="round"/>
<line x1="529" y1="77.0" x2="531" y2="75.5" stroke="#fb6e66" stroke-width="0.8" stroke-linecap="round"/>
<line x1="531" y1="75.5" x2="533" y2="74.0" stroke="#fb6e66" stroke-width="0.8" stroke-linecap="round"/>
<line x1="533" y1="74.0" x2="535" y2="72.0" stroke="#fb6e66" stroke-width="0.8" stroke-linecap="round"/>
<line x1="535" y1="72.0" x2="536.5" y2="70.8" stroke="#fb6e66" stroke-width="0.8" stroke-linecap="round"/>
<line x1="536.5" y1="70.8" x2="537.5" y2="71.2" stroke="#fb6e66" stroke-width="0.8" stroke-linecap="round"/>
<line x1="537.5" y1="71.2" x2="538.2" y2="72.0" stroke="#fb6e66" stroke-width="0.8" stroke-linecap="round"/>
<line x1="538.2" y1="72.0" x2="539.3" y2="65" stroke="#eaff76" stroke-width="0.8" stroke-linecap="round"/>
<line x1="539.3" y1="65" x2="540.3" y2="52" stroke="#d0ff8f" stroke-width="0.8" stroke-linecap="round"/>
<line x1="540.3" y1="52" x2="541.3" y2="35.6" stroke="#ff8266" stroke-width="0.8" stroke-linecap="round"/>
<line x1="541.3" y1="35.6" x2="542.2" y2="52" stroke="#ffa966" stroke-width="0.8" stroke-linecap="round"/>
<line x1="542.2" y1="52" x2="543" y2="68" stroke="#d0ff8f" stroke-width="0.8" stroke-linecap="round"/>
<line x1="543" y1="68" x2="543.6" y2="76" stroke="#84ffdb" stroke-width="0.8" stroke-linecap="round"/>
<line x1="543.6" y1="76" x2="544.3" y2="84" stroke="#66b7ff" stroke-width="0.8" stroke-linecap="round"/>
<line x1="544.3" y1="84" x2="545" y2="91" stroke="#6678ff" stroke-width="0.8" stroke-linecap="round"/>
<line x1="545" y1="91" x2="545.8" y2="100" stroke="#ff8266" stroke-width="0.8" stroke-linecap="round"/>
<line x1="545.8" y1="100" x2="546.5" y2="109.7" stroke="#fb6e66" stroke-width="0.8" stroke-linecap="round"/>
<line x1="546.5" y1="109.7" x2="547.6" y2="92" stroke="#fb6e66" stroke-width="0.8" stroke-linecap="round"/>
<line x1="547.6" y1="92" x2="548.8" y2="100.3" stroke="#ffee66" stroke-width="0.8" stroke-linecap="round"/>
<line x1="548.8" y1="100.3" x2="550" y2="92" stroke="#ff8266" stroke-width="0.8" stroke-linecap="round"/>
<line x1="550" y1="92" x2="551.2" y2="88.5" stroke="#fb6e66" stroke-width="0.8" stroke-linecap="round"/>
<line x1="551.2" y1="88.5" x2="555.9" y2="85.7" stroke="#fb6e66" stroke-width="0.8" stroke-linecap="round"/>
<line x1="555.9" y1="85.7" x2="557.5" y2="83.5" stroke="#fb6e66" stroke-width="0.8" stroke-linecap="round"/>
<line x1="557.5" y1="83.5" x2="558.2" y2="75.6" stroke="#6678ff" stroke-width="0.8" stroke-linecap="round"/>
<line x1="558.2" y1="75.6" x2="558.8" y2="84" stroke="#6697ff" stroke-width="0.8" stroke-linecap="round"/>
<line x1="558.8" y1="84" x2="561" y2="83" stroke="#fb6e66" stroke-width="0.8" stroke-linecap="round"/>
<line x1="561" y1="83" x2="563.2" y2="82.5" stroke="#fb6e66" stroke-width="0.8" stroke-linecap="round"/>
<line x1="563.2" y1="82.5" x2="563.6" y2="78" stroke="#66d6ff" stroke-width="0.8" stroke-linecap="round"/>
<line x1="563.6" y1="78" x2="564.2" y2="82.8" stroke="#6af6f5" stroke-width="0.8" stroke-linecap="round"/>
<line x1="564.2" y1="82.8" x2="568" y2="81.5" stroke="#fb6e66" stroke-width="0.8" stroke-linecap="round"/>
<line x1="568" y1="81.5" x2="571.5" y2="80.8" stroke="#fb6e66" stroke-width="0.8" stroke-linecap="round"/>
<line x1="571.5" y1="80.8" x2="571.8" y2="77" stroke="#84ffdb" stroke-width="0.8" stroke-linecap="round"/>
<line x1="571.8" y1="77" x2="572.3" y2="81" stroke="#ffd166" stroke-width="0.8" stroke-linecap="round"/>
<line x1="572.3" y1="81" x2="575" y2="80.5" stroke="#fb6e66" stroke-width="0.8" stroke-linecap="round"/>
<line x1="575" y1="80.5" x2="575.3" y2="77.5" stroke="#9dffc2" stroke-width="0.8" stroke-linecap="round"/>
<line x1="575.3" y1="77.5" x2="575.8" y2="80.3" stroke="#ffd166" stroke-width="0.8" stroke-linecap="round"/>
<line x1="575.8" y1="80.3" x2="580" y2="80.0" stroke="#fb6e66" stroke-width="0.8" stroke-linecap="round"/>
<line x1="580" y1="80.0" x2="586" y2="79.8" stroke="#fb6e66" stroke-width="0.8" stroke-linecap="round"/>
<line x1="586" y1="79.8" x2="588.2" y2="79.7" stroke="#fb6e66" stroke-width="0.8" stroke-linecap="round"/>
<line x1="588.2" y1="79.7" x2="588.5" y2="74.8" stroke="#b7ffa9" stroke-width="0.8" stroke-linecap="round"/>
<line x1="588.5" y1="74.8" x2="588.8" y2="83" stroke="#66d6ff" stroke-width="0.8" stroke-linecap="round"/>
<line x1="588.8" y1="83" x2="589.2" y2="79.8" stroke="#eaff76" stroke-width="0.8" stroke-linecap="round"/>
<line x1="589.2" y1="79.8" x2="589.5" y2="79.6" stroke="#fb6e66" stroke-width="0.8" stroke-linecap="round"/>
<line x1="589.5" y1="79.6" x2="590.2" y2="72" stroke="#ff8266" stroke-width="0.8" stroke-linecap="round"/>
<line x1="590.2" y1="72" x2="590.8" y2="40" stroke="#ff8266" stroke-width="0.8" stroke-linecap="round"/>
<line x1="590.8" y1="40" x2="591.1" y2="16.3" stroke="#ff8266" stroke-width="0.8" stroke-linecap="round"/>
<line x1="591.1" y1="16.3" x2="591.6" y2="45" stroke="#ff8266" stroke-width="0.8" stroke-linecap="round"/>
<line x1="591.6" y1="45" x2="592.2" y2="64" stroke="#66d6ff" stroke-width="0.8" stroke-linecap="round"/>
<line x1="592.2" y1="64" x2="592.7" y2="75" stroke="#6697ff" stroke-width="0.8" stroke-linecap="round"/>
<line x1="592.7" y1="75" x2="593.2" y2="85" stroke="#6697ff" stroke-width="0.8" stroke-linecap="round"/>
<line x1="593.2" y1="85" x2="593.6" y2="98" stroke="#9dffc2" stroke-width="0.8" stroke-linecap="round"/>
<line x1="593.6" y1="98" x2="594.0" y2="112" stroke="#f4ff6c" stroke-width="0.8" stroke-linecap="round"/>
<line x1="594.0" y1="112" x2="594.5" y2="144.2" stroke="#ed6666" stroke-width="0.8" stroke-linecap="round"/>
<line x1="594.5" y1="144.2" x2="595.0" y2="110" stroke="#fb6e66" stroke-width="0.8" stroke-linecap="round"/>
<line x1="595.0" y1="110" x2="595.6" y2="92" stroke="#b7ffa9" stroke-width="0.8" stroke-linecap="round"/>
<line x1="595.6" y1="92" x2="596.2" y2="84" stroke="#66b7ff" stroke-width="0.8" stroke-linecap="round"/>
<line x1="596.2" y1="84" x2="597" y2="80" stroke="#eaff76" stroke-width="0.8" stroke-linecap="round"/>
<line x1="597" y1="80" x2="597.8" y2="76" stroke="#b7ffa9" stroke-width="0.8" stroke-linecap="round"/>
<line x1="597.8" y1="76" x2="598.3" y2="70.6" stroke="#9dffc2" stroke-width="0.8" stroke-linecap="round"/>
<line x1="598.3" y1="70.6" x2="598.8" y2="80" stroke="#84ffdb" stroke-width="0.8" stroke-linecap="round"/>
<line x1="598.8" y1="80" x2="600" y2="81.5" stroke="#fb6e66" stroke-width="0.8" stroke-linecap="round"/>
<line x1="600" y1="81.5" x2="604" y2="80.2" stroke="#fb6e66" stroke-width="0.8" stroke-linecap="round"/>
<line x1="604" y1="80.2" x2="608" y2="79.8" stroke="#fb6e66" stroke-width="0.8" stroke-linecap="round"/>
<line x1="608" y1="79.8" x2="611" y2="79.0" stroke="#e36666" stroke-width="0.8" stroke-linecap="round"/>
<line x1="611" y1="79.0" x2="614" y2="79.6" stroke="#fb6e66" stroke-width="0.8" stroke-linecap="round"/>
<line x1="614" y1="79.6" x2="618" y2="79.5" stroke="#fb6e66" stroke-width="0.8" stroke-linecap="round"/>
<line x1="618" y1="79.5" x2="621" y2="79.0" stroke="#e36666" stroke-width="0.8" stroke-linecap="round"/>
<line x1="621" y1="79.0" x2="624" y2="79.5" stroke="#ffd166" stroke-width="0.8" stroke-linecap="round"/>
<line x1="394.6" y1="208.5" x2="394.6" y2="352.4" stroke="#a6a6a6" stroke-width="1"/>
<line x1="394.6" y1="352.4" x2="632.2" y2="352.4" stroke="#a6a6a6" stroke-width="1"/>
<line x1="394.6" y1="208.50" x2="397.0" y2="208.50" stroke="#a6a6a6" stroke-width="0.8"/>
<text x="392.3" y="211.50" text-anchor="end" font-size="8.3" font-family="Liberation Sans, sans-serif" font-weight="bold" fill="#1a1a1a" stroke="#1a1a1a" stroke-width="0.2">600</text>
<line x1="394.6" y1="229.06" x2="397.0" y2="229.06" stroke="#a6a6a6" stroke-width="0.8"/>
<text x="392.3" y="232.06" text-anchor="end" font-size="8.3" font-family="Liberation Sans, sans-serif" font-weight="bold" fill="#1a1a1a" stroke="#1a1a1a" stroke-width="0.2">400</text>
<line x1="394.6" y1="249.61" x2="397.0" y2="249.61" stroke="#a6a6a6" stroke-width="0.8"/>
<text x="392.3" y="252.61" text-anchor="end" font-size="8.3" font-family="Liberation Sans, sans-serif" font-weight="bold" fill="#1a1a1a" stroke="#1a1a1a" stroke-width="0.2">200</text>
<line x1="394.6" y1="270.17" x2="397.0" y2="270.17" stroke="#a6a6a6" stroke-width="0.8"/>
<text x="392.3" y="273.17" text-anchor="end" font-size="8.3" font-family="Liberation Sans, sans-serif" font-weight="bold" fill="#1a1a1a" stroke="#1a1a1a" stroke-width="0.2">0</text>
<line x1="394.6" y1="290.73" x2="397.0" y2="290.73" stroke="#a6a6a6" stroke-width="0.8"/>
<text x="392.3" y="293.73" text-anchor="end" font-size="8.3" font-family="Liberation Sans, sans-serif" font-weight="bold" fill="#1a1a1a" stroke="#1a1a1a" stroke-width="0.2">-200</text>
<line x1="394.6" y1="311.29" x2="397.0" y2="311.29" stroke="#a6a6a6" stroke-width="0.8"/>
<text x="392.3" y="314.29" text-anchor="end" font-size="8.3" font-family="Liberation Sans, sans-serif" font-weight="bold" fill="#1a1a1a" stroke="#1a1a1a" stroke-width="0.2">-400</text>
<line x1="394.6" y1="331.84" x2="397.0" y2="331.84" stroke="#a6a6a6" stroke-width="0.8"/>
<text x="392.3" y="334.84" text-anchor="end" font-size="8.3" font-family="Liberation Sans, sans-serif" font-weight="bold" fill="#1a1a1a" stroke="#1a1a1a" stroke-width="0.2">-600</text>
<line x1="394.60" y1="352.4" x2="394.60" y2="350.0" stroke="#a6a6a6" stroke-width="0.8"/>
<text x="394.60" y="362.3" text-anchor="middle" font-size="8.3" font-family="Liberation Sans, sans-serif" font-weight="bold" fill="#1a1a1a" stroke="#1a1a1a" stroke-width="0.2">0</text>
<line x1="421.00" y1="352.4" x2="421.00" y2="350.0" stroke="#a6a6a6" stroke-width="0.8"/>
<text x="421.00" y="362.3" text-anchor="middle" font-size="8.3" font-family="Liberation Sans, sans-serif" font-weight="bold" fill="#1a1a1a" stroke="#1a1a1a" stroke-width="0.2">0.5</text>
<line x1="447.40" y1="352.4" x2="447.40" y2="350.0" stroke="#a6a6a6" stroke-width="0.8"/>
<text x="447.40" y="362.3" text-anchor="middle" font-size="8.3" font-family="Liberation Sans, sans-serif" font-weight="bold" fill="#1a1a1a" stroke="#1a1a1a" stroke-width="0.2">1</text>
<line x1="473.80" y1="352.4" x2="473.80" y2="350.0" stroke="#a6a6a6" stroke-width="0.8"/>
<text x="473.80" y="362.3" text-anchor="middle" font-size="8.3" font-family="Liberation Sans, sans-serif" font-weight="bold" fill="#1a1a1a" stroke="#1a1a1a" stroke-width="0.2">1.5</text>
<line x1="500.20" y1="352.4" x2="500.20" y2="350.0" stroke="#a6a6a6" stroke-width="0.8"/>
<text x="500.20" y="362.3" text-anchor="middle" font-size="8.3" font-family="Liberation Sans, sans-serif" font-weight="bold" fill="#1a1a1a" stroke="#1a1a1a" stroke-width="0.2">2</text>
<line x1="526.60" y1="352.4" x2="526.60" y2="350.0" stroke="#a6a6a6" stroke-width="0.8"/>
<text x="526.60" y="362.3" text-anchor="middle" font-size="8.3" font-family="Liberation Sans, sans-serif" font-weight="bold" fill="#1a1a1a" stroke="#1a1a1a" stroke-width="0.2">2.5</text>
<line x1="553.00" y1="352.4" x2="553.00" y2="350.0" stroke="#a6a6a6" stroke-width="0.8"/>
<text x="553.00" y="362.3" text-anchor="middle" font-size="8.3" font-family="Liberation Sans, sans-serif" font-weight="bold" fill="#1a1a1a" stroke="#1a1a1a" stroke-width="0.2">3</text>
<line x1="579.40" y1="352.4" x2="579.40" y2="350.0" stroke="#a6a6a6" stroke-width="0.8"/>
<text x="579.40" y="362.3" text-anchor="middle" font-size="8.3" font-family="Liberation Sans, sans-serif" font-weight="bold" fill="#1a1a1a" stroke="#1a1a1a" stroke-width="0.2">3.5</text>
<line x1="605.80" y1="352.4" x2="605.80" y2="350.0" stroke="#a6a6a6" stroke-width="0.8"/>
<text x="605.80" y="362.3" text-anchor="middle" font-size="8.3" font-family="Liberation Sans, sans-serif" font-weight="bold" fill="#1a1a1a" stroke="#1a1a1a" stroke-width="0.2">4</text>
<line x1="632.20" y1="352.4" x2="632.20" y2="350.0" stroke="#a6a6a6" stroke-width="0.8"/>
<text x="632.20" y="362.3" text-anchor="middle" font-size="8.3" font-family="Liberation Sans, sans-serif" font-weight="bold" fill="#1a1a1a" stroke="#1a1a1a" stroke-width="0.2">4.5</text>
<text x="350.5" y="211.0" font-size="17.8" font-family="Liberation Sans, sans-serif" font-weight="bold" fill="#000">D</text>
<text x="0" y="0" transform="translate(371.0,273.0) rotate(-90)" text-anchor="middle" font-size="11" font-family="Liberation Sans, sans-serif" font-weight="bold" fill="#111" stroke="#111" stroke-width="0.15">Loadings</text>
<text x="514.6" y="377.0" text-anchor="middle" font-size="11" font-family="Liberation Sans, sans-serif" font-weight="bold" fill="#111" stroke="#111" stroke-width="0.15">ppm</text>
<defs><linearGradient id="gD" x1="0" y1="0" x2="0" y2="1"><stop offset="0.000" stop-color="#800000"/><stop offset="0.025" stop-color="#8d0000"/><stop offset="0.050" stop-color="#9b0000"/><stop offset="0.075" stop-color="#a90000"/><stop offset="0.100" stop-color="#b70000"/><stop offset="0.125" stop-color="#c50000"/><stop offset="0.150" stop-color="#d30000"/><stop offset="0.175" stop-color="#e10000"/><stop offset="0.200" stop-color="#ef0600"/><stop offset="0.225" stop-color="#fd1100"/><stop offset="0.250" stop-color="#ff1d00"/><stop offset="0.275" stop-color="#ff3000"/><stop offset="0.300" stop-color="#ff4a00"/><stop offset="0.325" stop-color="#ff6400"/><stop offset="0.350" stop-color="#ff7d00"/><stop offset="0.375" stop-color="#ff9700"/><stop offset="0.400" stop-color="#ffb100"/><stop offset="0.425" stop-color="#ffca00"/><stop offset="0.450" stop-color="#ffe400"/><stop offset="0.475" stop-color="#f0fe07"/><stop offset="0.500" stop-color="#d2ff24"/><stop offset="0.525" stop-color="#abff4c"/><stop offset="0.550" stop-color="#83ff73"/><stop offset="0.575" stop-color="#5cff9b"/><stop offset="0.600" stop-color="#34ffc3"/><stop offset="0.625" stop-color="#10fae6"/><stop offset="0.650" stop-color="#00e0fc"/><stop offset="0.675" stop-color="#00c5ff"/><stop offset="0.700" stop-color="#00abff"/><stop offset="0.725" stop-color="#0091ff"/><stop offset="0.750" stop-color="#0077ff"/><stop offset="0.775" stop-color="#005dff"/><stop offset="0.800" stop-color="#0042ff"/><stop offset="0.825" stop-color="#002aff"/><stop offset="0.850" stop-color="#0012ff"/><stop offset="0.875" stop-color="#0000ff"/><stop offset="0.900" stop-color="#0000ee"/><stop offset="0.925" stop-color="#0000d2"/><stop offset="0.950" stop-color="#0000b7"/><stop offset="0.975" stop-color="#00009b"/><stop offset="1.000" stop-color="#000080"/></linearGradient></defs>
<rect x="638.0" y="207.3" width="6.0" height="146.2" fill="url(#gD)"/>
<text x="645.4" y="341.88" font-size="8.3" font-family="Liberation Sans, sans-serif" font-weight="bold" fill="#1a1a1a" stroke="#1a1a1a" stroke-width="0.2">0.1</text>
<text x="645.4" y="327.26" font-size="8.3" font-family="Liberation Sans, sans-serif" font-weight="bold" fill="#1a1a1a" stroke="#1a1a1a" stroke-width="0.2">0.2</text>
<text x="645.4" y="312.64" font-size="8.3" font-family="Liberation Sans, sans-serif" font-weight="bold" fill="#1a1a1a" stroke="#1a1a1a" stroke-width="0.2">0.3</text>
<text x="645.4" y="298.02" font-size="8.3" font-family="Liberation Sans, sans-serif" font-weight="bold" fill="#1a1a1a" stroke="#1a1a1a" stroke-width="0.2">0.4</text>
<text x="645.4" y="283.40" font-size="8.3" font-family="Liberation Sans, sans-serif" font-weight="bold" fill="#1a1a1a" stroke="#1a1a1a" stroke-width="0.2">0.5</text>
<text x="645.4" y="268.78" font-size="8.3" font-family="Liberation Sans, sans-serif" font-weight="bold" fill="#1a1a1a" stroke="#1a1a1a" stroke-width="0.2">0.6</text>
<text x="645.4" y="254.16" font-size="8.3" font-family="Liberation Sans, sans-serif" font-weight="bold" fill="#1a1a1a" stroke="#1a1a1a" stroke-width="0.2">0.7</text>
<text x="645.4" y="239.54" font-size="8.3" font-family="Liberation Sans, sans-serif" font-weight="bold" fill="#1a1a1a" stroke="#1a1a1a" stroke-width="0.2">0.8</text>
<text x="645.4" y="224.92" font-size="8.3" font-family="Liberation Sans, sans-serif" font-weight="bold" fill="#1a1a1a" stroke="#1a1a1a" stroke-width="0.2">0.9</text>
<text x="0" y="0" transform="translate(664.5,277.7) rotate(90)" text-anchor="middle" font-size="11" font-family="Liberation Sans, sans-serif" font-weight="bold" fill="#111" stroke="#111" stroke-width="0.12">Correlation coefficient</text>
<line x1="416.2" y1="269.7" x2="420" y2="269.7" stroke="#66a3ff" stroke-width="0.8" stroke-linecap="round"/>
<line x1="420" y1="269.7" x2="423" y2="269.7" stroke="#eaff76" stroke-width="0.8" stroke-linecap="round"/>
<line x1="423" y1="269.7" x2="425" y2="269.7" stroke="#66a3ff" stroke-width="0.8" stroke-linecap="round"/>
<line x1="425" y1="269.7" x2="430" y2="269.8" stroke="#6697ff" stroke-width="0.8" stroke-linecap="round"/>
<line x1="430" y1="269.8" x2="433" y2="269.8" stroke="#eaff76" stroke-width="0.8" stroke-linecap="round"/>
<line x1="433" y1="269.8" x2="435" y2="269.8" stroke="#66b7ff" stroke-width="0.8" stroke-linecap="round"/>
<line x1="435" y1="269.8" x2="438" y2="270.2" stroke="#66d6ff" stroke-width="0.8" stroke-linecap="round"/>
<line x1="438" y1="270.2" x2="440" y2="269.0" stroke="#e36666" stroke-width="0.8" stroke-linecap="round"/>
<line x1="440" y1="269.0" x2="442" y2="270.3" stroke="#fb6e66" stroke-width="0.8" stroke-linecap="round"/>
<line x1="442" y1="270.3" x2="446" y2="269.7" stroke="#eaff76" stroke-width="0.8" stroke-linecap="round"/>
<line x1="446" y1="269.7" x2="449" y2="269.7" stroke="#6697ff" stroke-width="0.8" stroke-linecap="round"/>
<line x1="449" y1="269.7" x2="452" y2="269.7" stroke="#eaff76" stroke-width="0.8" stroke-linecap="round"/>
<line x1="452" y1="269.7" x2="456" y2="269.7" stroke="#66b7ff" stroke-width="0.8" stroke-linecap="round"/>
<line x1="456" y1="269.7" x2="460" y2="269.7" stroke="#eaff76" stroke-width="0.8" stroke-linecap="round"/>
<line x1="460" y1="269.7" x2="464.5" y2="269.8" stroke="#fb6e66" stroke-width="0.8" stroke-linecap="round"/>
<line x1="464.5" y1="269.8" x2="465" y2="248.8" stroke="#ee7272" stroke-width="0.8" stroke-linecap="round"/>
<line x1="465" y1="248.8" x2="465.5" y2="269.6" stroke="#ed6666" stroke-width="0.8" stroke-linecap="round"/>
<line x1="465.5" y1="269.6" x2="468" y2="269.8" stroke="#eaff76" stroke-width="0.8" stroke-linecap="round"/>
<line x1="468" y1="269.8" x2="470" y2="269.8" stroke="#66b7ff" stroke-width="0.8" stroke-linecap="round"/>
<line x1="470" y1="269.8" x2="474" y2="269.8" stroke="#eaff76" stroke-width="0.8" stroke-linecap="round"/>
<line x1="474" y1="269.8" x2="477" y2="269.6" stroke="#6697ff" stroke-width="0.8" stroke-linecap="round"/>
<line x1="477" y1="269.6" x2="480" y2="269.6" stroke="#66b7ff" stroke-width="0.8" stroke-linecap="round"/>
<line x1="480" y1="269.6" x2="483" y2="269.7" stroke="#eaff76" stroke-width="0.8" stroke-linecap="round"/>
<line x1="483" y1="269.7" x2="486" y2="269.7" stroke="#66a3ff" stroke-width="0.8" stroke-linecap="round"/>
<line x1="486" y1="269.7" x2="490" y2="269.8" stroke="#eaff76" stroke-width="0.8" stroke-linecap="round"/>
<line x1="490" y1="269.8" x2="494" y2="269.6" stroke="#6697ff" stroke-width="0.8" stroke-linecap="round"/>
<line x1="494" y1="269.6" x2="498" y2="269.6" stroke="#66b7ff" stroke-width="0.8" stroke-linecap="round"/>
<line x1="498" y1="269.6" x2="501" y2="269.8" stroke="#eaff76" stroke-width="0.8" stroke-linecap="round"/>
<line x1="501" y1="269.8" x2="504" y2="269.8" stroke="#66a3ff" stroke-width="0.8" stroke-linecap="round"/>
<line x1="504" y1="269.8" x2="508" y2="269.7" stroke="#6697ff" stroke-width="0.8" stroke-linecap="round"/>
<line x1="508" y1="269.7" x2="512" y2="269.6" stroke="#66b7ff" stroke-width="0.8" stroke-linecap="round"/>
<line x1="512" y1="269.6" x2="516" y2="269.7" stroke="#66d6ff" stroke-width="0.8" stroke-linecap="round"/>
<line x1="516" y1="269.7" x2="520" y2="269.9" stroke="#fb6e66" stroke-width="0.8" stroke-linecap="round"/>
<line x1="520" y1="269.9" x2="524" y2="270.3" stroke="#ed6666" stroke-width="0.8" stroke-linecap="round"/>
<line x1="524" y1="270.3" x2="527" y2="271" stroke="#de4c4c" stroke-width="0.9" stroke-linecap="round"/>
<line x1="527" y1="271" x2="530" y2="272.2" stroke="#d24c4c" stroke-width="0.9" stroke-linecap="round"/>
<line x1="530" y1="272.2" x2="532.5" y2="274" stroke="#d24c4c" stroke-width="0.9" stroke-linecap="round"/>
<line x1="532.5" y1="274" x2="534.5" y2="276.5" stroke="#cd4c4c" stroke-width="1.0" stroke-linecap="round"/>
<line x1="534.5" y1="276.5" x2="536.5" y2="279" stroke="#cd4c4c" stroke-width="1.0" stroke-linecap="round"/>
<line x1="536.5" y1="279" x2="538.2" y2="280.8" stroke="#cd4c4c" stroke-width="1.0" stroke-linecap="round"/>
<line x1="538.2" y1="280.8" x2="539.5" y2="281" stroke="#cd4c4c" stroke-width="1.0" stroke-linecap="round"/>
<line x1="539.5" y1="281" x2="540.5" y2="279.5" stroke="#de4c4c" stroke-width="1.0" stroke-linecap="round"/>
<line x1="540.5" y1="279.5" x2="541.2" y2="277.8" stroke="#fa564c" stroke-width="1.0" stroke-linecap="round"/>
<line x1="541.2" y1="277.8" x2="542.2" y2="284" stroke="#ffd166" stroke-width="0.8" stroke-linecap="round"/>
<line x1="542.2" y1="284" x2="543.3" y2="298" stroke="#f4ff6c" stroke-width="0.8" stroke-linecap="round"/>
<line x1="543.3" y1="298" x2="544.5" y2="310.3" stroke="#ffe866" stroke-width="0.8" stroke-linecap="round"/>
<line x1="544.5" y1="310.3" x2="545.3" y2="295" stroke="#f4ff6c" stroke-width="0.8" stroke-linecap="round"/>
<line x1="545.3" y1="295" x2="545.9" y2="278.7" stroke="#eaff76" stroke-width="0.8" stroke-linecap="round"/>
<line x1="545.9" y1="278.7" x2="547" y2="274" stroke="#6697ff" stroke-width="0.8" stroke-linecap="round"/>
<line x1="547" y1="274" x2="547.7" y2="268" stroke="#6678ff" stroke-width="0.8" stroke-linecap="round"/>
<line x1="547.7" y1="268" x2="548.5" y2="262.6" stroke="#66b7ff" stroke-width="0.8" stroke-linecap="round"/>
<line x1="548.5" y1="262.6" x2="549.8" y2="250" stroke="#d0ff8f" stroke-width="0.8" stroke-linecap="round"/>
<line x1="549.8" y1="250" x2="551.3" y2="240.7" stroke="#ffd166" stroke-width="0.8" stroke-linecap="round"/>
<line x1="551.3" y1="240.7" x2="552.5" y2="253" stroke="#ffa966" stroke-width="0.8" stroke-linecap="round"/>
<line x1="552.5" y1="253" x2="554" y2="249" stroke="#ffd166" stroke-width="0.8" stroke-linecap="round"/>
<line x1="554" y1="249" x2="555.5" y2="258" stroke="#ff8266" stroke-width="0.8" stroke-linecap="round"/>
<line x1="555.5" y1="258" x2="557.8" y2="249" stroke="#ffd166" stroke-width="0.8" stroke-linecap="round"/>
<line x1="557.8" y1="249" x2="559" y2="258" stroke="#ff8266" stroke-width="0.8" stroke-linecap="round"/>
<line x1="559" y1="258" x2="560.9" y2="259.5" stroke="#e36666" stroke-width="0.8" stroke-linecap="round"/>
<line x1="560.9" y1="259.5" x2="562" y2="263" stroke="#84ffdb" stroke-width="0.8" stroke-linecap="round"/>
<line x1="562" y1="263" x2="564.5" y2="265.8" stroke="#fb6e66" stroke-width="0.8" stroke-linecap="round"/>
<line x1="564.5" y1="265.8" x2="568" y2="267.5" stroke="#fb6e66" stroke-width="0.8" stroke-linecap="round"/>
<line x1="568" y1="267.5" x2="571.8" y2="268.9" stroke="#66d6ff" stroke-width="0.8" stroke-linecap="round"/>
<line x1="571.8" y1="268.9" x2="574" y2="268.5" stroke="#6697ff" stroke-width="0.8" stroke-linecap="round"/>
<line x1="574" y1="268.5" x2="577" y2="269.3" stroke="#ffa966" stroke-width="0.8" stroke-linecap="round"/>
<line x1="577" y1="269.3" x2="580" y2="268.8" stroke="#66d6ff" stroke-width="0.8" stroke-linecap="round"/>
<line x1="580" y1="268.8" x2="584" y2="269.6" stroke="#ff8266" stroke-width="0.8" stroke-linecap="round"/>
<line x1="584" y1="269.6" x2="590.5" y2="270.0" stroke="#ff8266" stroke-width="0.8" stroke-linecap="round"/>
<line x1="590.5" y1="270.0" x2="592.5" y2="272" stroke="#ffa966" stroke-width="0.8" stroke-linecap="round"/>
<line x1="592.5" y1="272" x2="593.8" y2="333.2" stroke="#fb6e66" stroke-width="0.8" stroke-linecap="round"/>
<line x1="593.8" y1="333.2" x2="594.8" y2="300" stroke="#ff8266" stroke-width="0.8" stroke-linecap="round"/>
<line x1="594.8" y1="300" x2="595.5" y2="275" stroke="#66b7ff" stroke-width="0.8" stroke-linecap="round"/>
<line x1="595.5" y1="275" x2="596.1" y2="255" stroke="#6af6f5" stroke-width="0.8" stroke-linecap="round"/>
<line x1="596.1" y1="255" x2="596.5" y2="240" stroke="#d0ff8f" stroke-width="0.8" stroke-linecap="round"/>
<line x1="596.5" y1="240" x2="596.9" y2="225" stroke="#ffd166" stroke-width="0.8" stroke-linecap="round"/>
<line x1="596.9" y1="225" x2="597.2" y2="210.9" stroke="#ffa966" stroke-width="0.8" stroke-linecap="round"/>
<line x1="597.2" y1="210.9" x2="597.6" y2="230" stroke="#ffc166" stroke-width="0.8" stroke-linecap="round"/>
<line x1="597.6" y1="230" x2="598" y2="248" stroke="#d0ff8f" stroke-width="0.8" stroke-linecap="round"/>
<line x1="598" y1="248" x2="598.5" y2="262" stroke="#66d6ff" stroke-width="0.8" stroke-linecap="round"/>
<line x1="598.5" y1="262" x2="599.3" y2="272" stroke="#6697ff" stroke-width="0.8" stroke-linecap="round"/>
<line x1="599.3" y1="272" x2="600.4" y2="257" stroke="#84ffdb" stroke-width="0.8" stroke-linecap="round"/>
<line x1="600.4" y1="257" x2="601" y2="268" stroke="#6af6f5" stroke-width="0.8" stroke-linecap="round"/>
<line x1="601" y1="268" x2="602" y2="269.5" stroke="#84ffdb" stroke-width="0.8" stroke-linecap="round"/>
<line x1="602" y1="269.5" x2="606" y2="269.5" stroke="#9dffc2" stroke-width="0.8" stroke-linecap="round"/>
<line x1="606" y1="269.5" x2="610" y2="269.5" stroke="#84ffdb" stroke-width="0.8" stroke-linecap="round"/>
<line x1="610" y1="269.5" x2="612" y2="268.5" stroke="#fb6e66" stroke-width="0.8" stroke-linecap="round"/>
<line x1="612" y1="268.5" x2="614" y2="269.6" stroke="#84ffdb" stroke-width="0.8" stroke-linecap="round"/>
<line x1="614" y1="269.6" x2="617" y2="269.5" stroke="#eaff76" stroke-width="0.8" stroke-linecap="round"/>
<line x1="617" y1="269.5" x2="620" y2="269.5" stroke="#6af6f5" stroke-width="0.8" stroke-linecap="round"/>
<line x1="620" y1="269.5" x2="624" y2="269.5" stroke="#84ffdb" stroke-width="0.8" stroke-linecap="round"/>
<line x1="624" y1="269.5" x2="627.5" y2="269.5" stroke="#6af6f5" stroke-width="0.8" stroke-linecap="round"/>
</svg>
</body></html>
